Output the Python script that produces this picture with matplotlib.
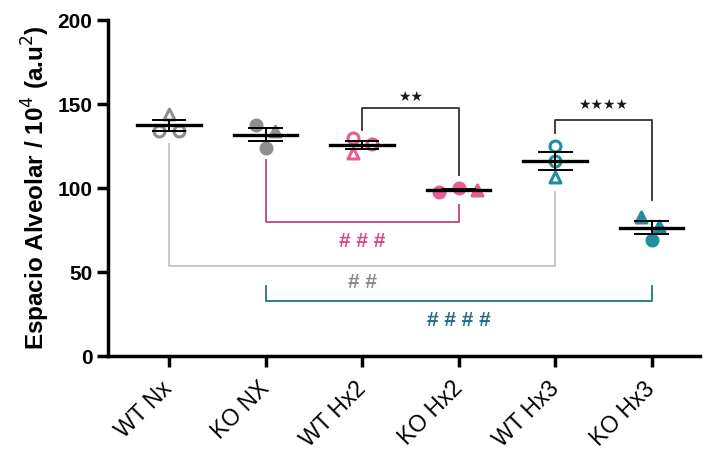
import numpy as np
from matplotlib import pyplot as plt

plt.rcParams['font.family'] = ['Liberation Sans', 'DejaVu Sans']

# groups and per-animal values
groups = ["WT Nx", "KO NX", "WT Hx2", "KO Hx2", "WT Hx3", "KO Hx3"]
wt_nx = [144.0, 134.0, 134.0]
ko_nx = [137.5, 134.0, 124.0]
wt_hx2 = [130.0, 121.0, 126.0]
ko_hx2 = [97.6, 100.0, 98.8]
wt_hx3 = [125.0, 116.0, 106.5]
ko_hx3 = [82.7, 77.4, 69.0]
values = [wt_nx, ko_nx, wt_hx2, ko_hx2, wt_hx3, ko_hx3]
y_ticks = [0, 50, 100, 150, 200]

# comparisons: (group a, group b, label)
stars = [(2, 3, 2), (4, 5, 4)]
hashes = [(1, 3, "###"), (0, 4, "##"), (1, 5, "####")]

grey = "#8e8e8e"
pink = "#ea5a93"
teal = "#1f8ea0"
colors = [grey, grey, pink, pink, teal, teal]
filled = [False, True, False, True, False, True]
shapes = [["^", "o", "o"], ["o", "^", "o"], ["o", "^", "o"],
          ["o", "o", "^"], ["o", "o", "^"], ["^", "^", "o"]]
jitter = [[0, -0.1, 0.1], [-0.1, 0.1, 0], [-0.09, -0.09, 0.1],
          [-0.2, 0, 0.19], [0, 0, 0], [-0.11, 0.08, 0]]

fig = plt.figure(figsize=(7.12, 4.57), dpi=100)
ax = fig.add_axes([0.152, 0.221, 0.831, 0.735])

for i, vals in enumerate(values):
    vals = np.array(vals)
    m = vals.mean()
    sem = vals.std(ddof=1) / np.sqrt(len(vals))
    for j, v in enumerate(vals):
        fc = colors[i] if filled[i] else "white"
        ax.scatter(i + jitter[i][j], v, marker=shapes[i][j], s=62,
                   facecolor=fc, edgecolor=colors[i], linewidths=2.2, zorder=3)
    ax.plot([i - 0.33, i + 0.33], [m, m], c="black", lw=2.4, zorder=4)
    ax.plot([i - 0.17, i + 0.17], [m + sem] * 2, c="black", lw=1.4, zorder=4)
    ax.plot([i - 0.17, i + 0.17], [m - sem] * 2, c="black", lw=1.4, zorder=4)
    ax.plot([i, i], [m - sem, m + sem], c="black", lw=1.4, zorder=4)

# significance brackets (top, black)
star_geo = {(2, 3): (147.6, 134.5, 107.7, 154.5),
            (4, 5): (140.5, 132.7, 93.0, 149.5)}
for a, b, n in stars:
    top, la, lb, ty = star_geo[(a, b)]
    ax.plot([a, a, b, b], [la, top, top, lb], c="#333333", lw=1.3)
    ax.text((a + b) / 2, ty, "\u2605" * n, ha="center", va="center",
            fontsize=10, color="#1a1a1a", family="DejaVu Sans")

# hash brackets (below)
hash_geo = {(1, 3): (79.8, 116.7, 90.0, "#e0478a", "#c1538a", 68.0),
            (0, 4): (53.6, 126.0, 97.6, "#8a8a8a", "#c8c8c8", 43.5),
            (1, 5): (32.7, 41.5, 41.5, "#1f6f80", "#2d7f8e", 21.4)}
for a, b, txt in hashes:
    y, la, lb, tc, lc, ty = hash_geo[(a, b)]
    ax.plot([a, a, b, b], [la, y, y, lb], c=lc, lw=1.4, zorder=1)
    tx = 2 if (a, b) != (1, 5) else 3
    ax.text(tx, ty, " ".join(txt), ha="center", va="center",
            fontsize=15, fontweight="bold", color=tc)

ax.set_xlim(-0.63, 5.5)
ax.set_ylim(0, 200)
ax.set_yticks(y_ticks)
ax.set_yticklabels([str(t) for t in y_ticks], fontsize=15, fontweight="bold")
ax.set_xticks(range(len(groups)))
ax.set_xticklabels(groups, rotation=45, ha="right", va="center",
                   rotation_mode="anchor", fontsize=16.5)
ax.set_ylabel("Espacio Alveolar / 10$^{4}$ (a.u$^{2}$)", fontsize=17.5,
              fontweight="bold", labelpad=4)
for s in ["top", "right"]:
    ax.spines[s].set_visible(False)
for s in ["left", "bottom"]:
    ax.spines[s].set_linewidth(2.5)
ax.tick_params(width=2.5, length=8, direction="out")
ax.tick_params(axis="x", pad=13)

fig.savefig("out.png", dpi=100)
